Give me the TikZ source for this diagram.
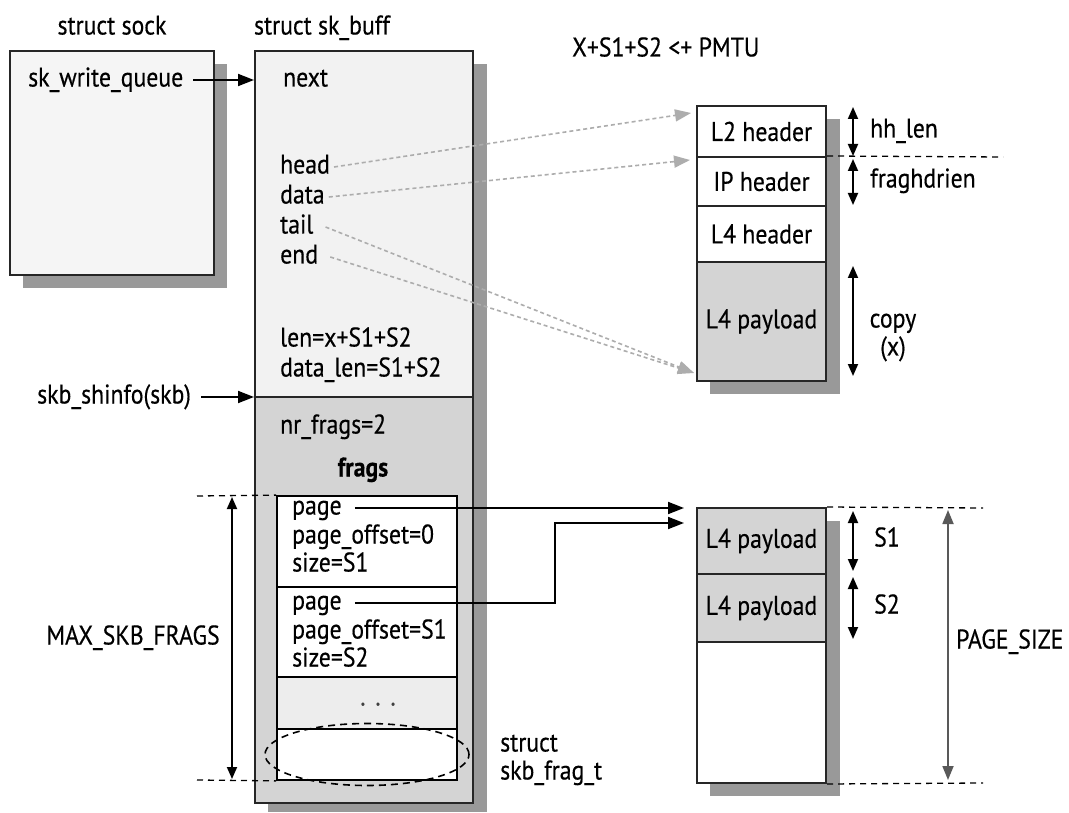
\documentclass[tikz,border=0pt]{standalone}
\usepackage{fontspec}
\setmainfont{PT Sans}[FakeStretch=0.88, FakeBold=0.4]
\usetikzlibrary{arrows.meta}
\tikzset{
  lbl/.style={inner sep=0pt, text height=19pt, text depth=6pt, font=\fontsize{27}{32}\selectfont},
  lblw/.style={lbl, anchor=west},
  box/.style={draw=black!85, line width=2pt},
  shadow/.style={fill=black!40, draw=none},
  cell/.style={box, minimum width=129pt, inner sep=0pt, font=\fontsize{27}{32}\selectfont},
  fcell/.style={draw=black, line width=1.8pt, minimum width=180pt, inner sep=0pt},
  ptr/.style={line width=1.8pt, -{Triangle[length=16pt,width=12pt]}},
  dim/.style={line width=1.8pt, {Triangle[length=12pt,width=10pt]}-{Triangle[length=12pt,width=10pt]}},
  gptr/.style={draw=black!32, line width=1.6pt, dash pattern=on 4pt off 3pt, -{Triangle[length=16pt,width=12pt,fill=black!32]}},
  guide/.style={line width=1.3pt, dash pattern=on 6pt off 5pt},
}
\begin{document}
\begin{tikzpicture}[x=1pt,y=-1pt]
\useasboundingbox[fill=white] (0,0) rectangle (1069,813);

% ---- struct sock
\node[lbl] (tsock) at (112,28) {struct sock};
\fill[shadow] (23,64) rectangle (227,288);
\draw[box, fill=black!4] (10,51) rectangle (214,275);
\node[lblw] (swq) at (28,80) {sk\_write\_queue};

% ---- struct sk_buff
\node[lbl] (tskb) at (322,28) {struct sk\_buff};
\fill[shadow] (268,64) rectangle (487,812);
\fill[black!5] (255,51) rectangle (473,397);
\fill[black!17] (255,397) rectangle (473,803);
\draw[box] (255,397) -- (473,397);
\draw[box] (255,51) rectangle (473,803);
\coordinate (skbnext) at (254,80);
\coordinate (skbsh) at (254,397);

\node[lblw] (next) at (283,80) {next};
\node[lblw] (head) at (280,167) {head};
\node[lblw] (data) at (280,197) {data};
\node[lblw] (tail) at (280,227) {tail};
\node[lblw] (end) at (280,257) {end};
\node[lblw] (len) at (280,340) {len=x+S1+S2};
\node[lblw] (dlen) at (280,370) {data\_len=S1+S2};
\node[lblw] (nrf) at (280,427) {nr\_frags=2};
\node[lbl, font=\fontsize{27}{32}\selectfont\bfseries] (frags) at (363,470) {frags};

\node[lblw] (shinfo) at (37,397) {skb\_shinfo(skb)};
\draw[ptr] ([xshift=10pt]swq.east) -- (skbnext);
\draw[ptr] ([xshift=10pt]shinfo.east) -- (skbsh);

% ---- frags array
\node[fcell, fill=white, minimum height=91pt] (F1) at (367,541.5) {};
\node[fcell, fill=white, minimum height=90pt] (F2) at (367,632) {};
\node[fcell, fill=black!7, minimum height=52pt] (F3) at (367,703) {};
\node[fcell, fill=white, minimum height=51pt] (F4) at (367,754.5) {};
\node[lbl, text=black!75] (dots) at (378,699) {.\hspace{10pt}.\hspace{10pt}.};

\node[lblw] (pg1) at (292,508) {page};
\node[lblw] (po1) at (292,537) {page\_offset=0};
\node[lblw] (sz1) at (292,565) {size=S1};
\node[lblw] (pg2) at (292,603) {page};
\node[lblw] (po2) at (292,632) {page\_offset=S1};
\node[lblw] (sz2) at (292,660) {size=S2};

\draw[line width=1.6pt, dash pattern=on 7pt off 5pt] (F4.center) ellipse [x radius=102pt, y radius=31pt];
\node[lblw] (sft1) at (500,745) {struct};
\node[lblw] (sft2) at (500,773) {skb\_frag\_t};

% MAX_SKB_FRAGS
\coordinate (mt) at (197,496);
\coordinate (mb) at (197,780);
\draw[guide] (mt) -- (F1.north west);
\draw[guide] (mb) -- (F4.south west);
\coordinate (ma) at (232,497);
\coordinate (mz) at (232,779);
\draw[dim] (ma) -- (mz);
\node[lbl] (maxf) at (133,638) {MAX\_SKB\_FRAGS};

% ---- header stack
\node[lblw] (pmtu) at (572,50) {X+S1+S2 <+ PMTU};
\fill[shadow] (710,119) rectangle (840,394);
\node[cell, fill=white, minimum height=51pt] (L2) at (761.5,131.5) {L2 header};
\node[cell, fill=white, minimum height=49pt] (IP) at (761.5,181.5) {IP header};
\node[cell, fill=white, minimum height=56pt] (L4) at (761.5,234) {L4 header};
\node[cell, fill=black!17, minimum height=119pt] (PL) at (761.5,321.5) {L4 payload};

\coordinate (gh) at (691,113);
\coordinate (gd) at (690,160);
\coordinate (gt) at (694,373);
\draw[gptr] ([xshift=4pt]head.east) -- (gh);
\draw[gptr] ([xshift=4pt]data.east) -- (gd);
\draw[gptr] ([xshift=12pt]tail.east) -- (gt);
\draw[gptr] ([xshift=12pt]end.east) -- (gt);

\coordinate (g1) at (1003,157);
\draw[guide] (IP.north east) -- (g1);
\coordinate (h1) at (853,107);
\coordinate (h2) at (853,156);
\draw[dim] (h1) -- (h2);
\node[lblw] (hhlen) at (870,131) {hh\_len};
\coordinate (f1) at (853,159);
\coordinate (f2) at (853,205);
\draw[dim] (f1) -- (f2);
\node[lblw] (fhl) at (870,181) {fraghdrien};
\coordinate (c1) at (853,266);
\coordinate (c2) at (853,376);
\draw[dim] (c1) -- (c2);
\node[lbl] (copy) at (893,321) {copy};
\node[lbl] (copyx) at (893,349) {(x)};

% ---- page stack
\fill[shadow] (710,521) rectangle (840,796);
\node[cell, fill=black!17, minimum height=66pt] (P1) at (761.5,541) {L4 payload};
\node[cell, fill=black!17, minimum height=68pt] (P2) at (761.5,608) {L4 payload};
\node[cell, fill=white, minimum height=141pt] (P3) at (761.5,712.5) {};

\coordinate (t1) at (684,508);
\coordinate (t2) at (684,523);
\coordinate (bend) at (555,603);
\draw[ptr] ([xshift=13pt]pg1.east) -- (t1);
\draw[ptr] ([xshift=13pt]pg2.east) -- (bend) |- (t2);

\coordinate (d1) at (983,508);
\coordinate (d2) at (983,783);
\draw[guide] (P1.north east) -- (d1);
\draw[guide] (P3.south east) -- (d2);
\coordinate (s1a) at (853,511);
\coordinate (s1b) at (853,571);
\draw[dim] (s1a) -- (s1b);
\node[lblw] (s1) at (874,540) {S1};
\coordinate (s2a) at (853,577);
\coordinate (s2b) at (853,639);
\draw[dim] (s2a) -- (s2b);
\node[lblw] (s2) at (874,607) {S2};
\coordinate (pa) at (948,510);
\coordinate (pb) at (948,780);
\draw[dim, draw=black!65, {Triangle[length=14pt,width=11pt,fill=black!65]}-{Triangle[length=14pt,width=11pt,fill=black!65]}] (pa) -- (pb);
\node[lblw] (psz) at (956,642) {PAGE\_SIZE};
\end{tikzpicture}
\end{document}
